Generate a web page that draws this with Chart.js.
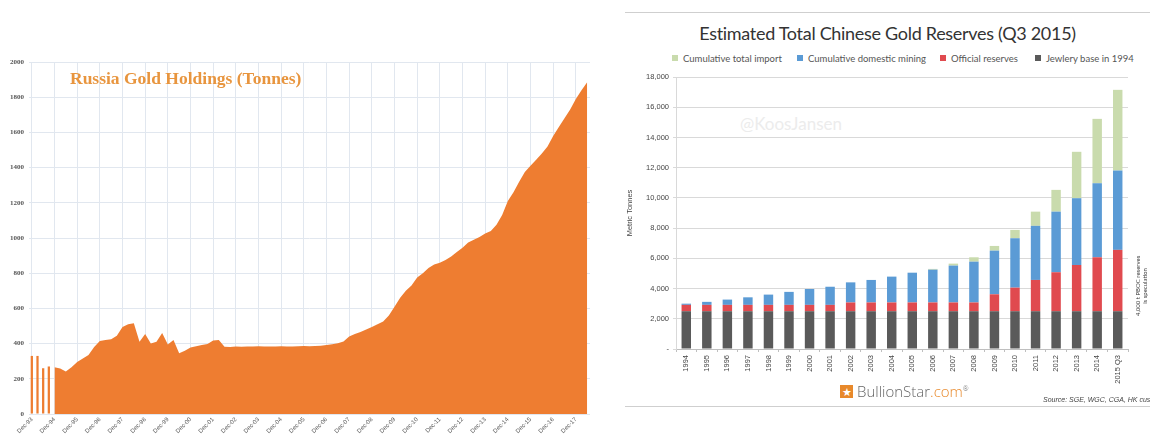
<!DOCTYPE html>
<html>
<head>
<meta charset="utf-8">
<script src="https://cdn.jsdelivr.net/npm/chart.js@4"></script>
<style>
  body { margin: 0; width: 1150px; height: 437px; background: #fff; position: relative; overflow: hidden; font-family: "Lato", "Open Sans", sans-serif; }
  .abs { position: absolute; white-space: nowrap; }
  #russiaWrap { position: absolute; left: 0; top: 40px; }
  #chinaWrap { position: absolute; left: 625px; top: 65px; }
  .rule { position: absolute; left: 625px; width: 525px; height: 1px; background: #cfcfcf; }
  .key { position: absolute; top: 53px; font-size: 9.5px; color: #555; }
  .key i { display: inline-block; width: 6px; height: 6px; margin-right: 5px; vertical-align: 1px; }
</style>
</head>
<body>

<!-- left: Russia -->
<div id="russiaWrap"><canvas id="russiaChart" width="600" height="397"></canvas></div>
<div class="abs" style="left:70px; top:68px; font: bold 17.5px 'Liberation Serif', serif; color:#e8953e;">Russia Gold Holdings (Tonnes)</div>

<!-- right: China -->
<div class="rule" style="top:12px"></div>
<div class="rule" style="top:406px"></div>
<div class="abs" style="left:625px; width:525px; top:22px; text-align:center; font-size:18px; letter-spacing:-0.3px; color:#333;">Estimated Total Chinese Gold Reserves (Q3 2015)</div>
<div class="key" style="left:672px"><i style="background:#c9dbad"></i>Cumulative total import</div>
<div class="key" style="left:797px"><i style="background:#5b9bd5"></i>Cumulative domestic mining</div>
<div class="key" style="left:940px"><i style="background:#e04a4f"></i>Official reserves</div>
<div class="key" style="left:1035px"><i style="background:#5a5a5a"></i>Jewlery base in 1994</div>
<div class="abs" style="left:740px; top:113px; font-size:17px; color:#ececec;">@KoosJansen</div>
<div id="chinaWrap"><canvas id="chinaChart" width="525" height="325"></canvas></div>
<div class="abs" style="left:1111px; top:279px; width:60px; transform:rotate(-90deg); font-size:6px; line-height:7px; text-align:center; color:#444;">4,000 t PBOC reserves<br>is speculation</div>
<div class="abs" style="left:840px; top:385px; width:13px; height:13px; background:#e8892b; color:#fff; font-size:11px; line-height:13px; text-align:center;">★</div>
<div class="abs" style="left:857px; top:381px; font: 300 15px 'Open Sans', sans-serif; color:#666;">BullionStar<span style="color:#e8892b">.com</span><sup style="font-size:7px">®</sup></div>
<div class="abs" style="left:1043px; top:396px; font: italic 7px 'Liberation Sans', sans-serif; color:#444;">Source: SGE, WGC, CGA, HK customs</div>

<script>
// Russia: quarterly holdings, Dec-93 .. Jun-18
const russiaYearLabels = ["Dec-93", "Dec-94", "Dec-95", "Dec-96", "Dec-97", "Dec-98", "Dec-99", "Dec-00",
    "Dec-01", "Dec-02", "Dec-03", "Dec-04", "Dec-05", "Dec-06", "Dec-07", "Dec-08", "Dec-09", "Dec-10",
    "Dec-11", "Dec-12", "Dec-13", "Dec-14", "Dec-15", "Dec-16", "Dec-17"];
const russiaSparse = [330, 330, 260, 270]; // Dec-93 .. Sep-94, patchy reporting
const russiaHoldings = [ // Dec-94 .. Jun-18
    265, 258, 242, 265, 295, 315, 335, 380, 415, 420, 425, 445, 495, 510, 515, 410,
    455, 400, 410, 460, 395, 420, 345, 360, 378, 385, 392, 398, 418, 420, 382, 381,
    383, 382, 384, 383, 385, 384, 384, 383, 385, 384, 384, 385, 386, 385, 386, 388,
    392, 396, 402, 412, 440, 455, 466, 480, 495, 510, 525, 560, 610, 660, 700, 730,
    775, 800, 830, 850, 860, 875, 895, 920, 945, 975, 990, 1005, 1025, 1040, 1075, 1130,
    1210, 1260, 1320, 1375, 1410, 1445, 1480, 1520, 1580, 1630, 1680, 1730, 1790, 1840, 1885];

// China: stacked estimate by year
const chinaYears = ["1994", "1995", "1996", "1997", "1998", "1999", "2000", "2001", "2002", "2003", "2004",
    "2005", "2006", "2007", "2008", "2009", "2010", "2011", "2012", "2013", "2014", "2015 Q3"];
const jewelryBase = [2500, 2500, 2500, 2500, 2500, 2500, 2500, 2500, 2500, 2500, 2500,
    2500, 2500, 2500, 2500, 2500, 2500, 2500, 2500, 2500, 2500, 2500];
const officialReserves = [420, 420, 420, 420, 420, 420, 420, 420, 580, 580, 580,
    580, 580, 580, 580, 1120, 1560, 2070, 2580, 3060, 3570, 4060];
const domesticMining = [80, 200, 350, 500, 680, 860, 1050, 1200, 1330, 1490, 1710,
    1970, 2170, 2440, 2700, 2890, 3270, 3580, 4010, 4420, 4900, 5250];
const totalImport = [0, 0, 0, 0, 0, 0, 0, 0, 0, 0, 0,
    0, 50, 130, 290, 310, 550, 940, 1440, 3070, 4260, 5340];

// quarter categories: each Dec label followed by Mar/Jun/Sep of the next year
const russiaQuarters = [];
russiaYearLabels.forEach((lbl) => {
    russiaQuarters.push(lbl);
    const next = String((parseInt(lbl.slice(4), 10) + 1) % 100).padStart(2, "0");
    ["Mar-", "Jun-", "Sep-"].forEach((m) => russiaQuarters.push(m + next));
});
russiaQuarters.length = russiaSparse.length + russiaHoldings.length;

const sparseData = russiaQuarters.map((_, i) => (i < russiaSparse.length ? russiaSparse[i] : null));
const mainData = russiaQuarters.map((_, i) => (i < russiaSparse.length ? null : russiaHoldings[i - russiaSparse.length]));

const orange = "#ee7d31";
const gridBlue = "#e1e7ef";

new Chart(document.getElementById("russiaChart").getContext("2d"), {
    type: "bar",
    data: {
        labels: russiaQuarters,
        datasets: [
            {
                label: "Early",
                data: sparseData,
                backgroundColor: orange,
                barPercentage: 0.4,
                categoryPercentage: 1,
                grouped: false,
            },
            {
                type: "line",
                label: "Holdings",
                data: mainData,
                borderWidth: 0,
                borderColor: orange,
                backgroundColor: orange,
                pointRadius: 0,
                fill: "origin",
                tension: 0,
            },
        ],
    },
    options: {
        responsive: false,
        animation: false,
        layout: { padding: { top: 22, right: 10 } },
        plugins: { legend: { display: false }, tooltip: { enabled: false } },
        scales: {
            x: {
                offset: true,
                afterFit: (s) => { s.height = 23; },
                grid: {
                    offset: false,
                    drawTicks: false,
                    color: (ctx) => (ctx.index % 4 === 0 ? gridBlue : "transparent"),
                },
                border: { display: false },
                ticks: {
                    autoSkip: false,
                    minRotation: 45,
                    maxRotation: 45,
                    padding: 2,
                    font: { size: 6, family: "Liberation Sans" },
                    color: "#555",
                    callback: (v, i) => (i % 4 === 0 ? russiaQuarters[i] : ""),
                },
            },
            y: {
                min: 0,
                max: 2000,
                afterFit: (s) => { s.width = 29; },
                grid: { color: gridBlue, drawTicks: false },
                border: { display: false },
                ticks: {
                    stepSize: 200,
                    padding: 5,
                    font: { size: 7, family: "Liberation Serif", weight: "bold" },
                    color: "#555",
                    callback: (v) => String(v),
                },
            },
        },
    },
});

new Chart(document.getElementById("chinaChart").getContext("2d"), {
    type: "bar",
    data: {
        labels: chinaYears,
        datasets: [
            { label: "Jewlery base in 1994", data: jewelryBase, backgroundColor: "#5a5a5a" },
            { label: "Official reserves", data: officialReserves, backgroundColor: "#e04a4f" },
            { label: "Cumulative domestic mining", data: domesticMining, backgroundColor: "#5b9bd5" },
            { label: "Cumulative total import", data: totalImport, backgroundColor: "#c9dbad" },
        ],
    },
    options: {
        responsive: false,
        animation: false,
        layout: { padding: { top: 12, right: 22 } },
        datasets: { bar: { barPercentage: 0.5, categoryPercentage: 0.92 } },
        plugins: { legend: { display: false }, tooltip: { enabled: false } },
        scales: {
            x: {
                stacked: true,
                afterFit: (s) => { s.height = 41; },
                grid: { drawOnChartArea: false, tickLength: 3, color: "#bfbfbf" },
                border: { color: "#bfbfbf" },
                ticks: {
                    autoSkip: false,
                    minRotation: 90,
                    maxRotation: 90,
                    padding: 3,
                    font: { size: 7.5, family: "Liberation Sans" },
                    color: "#444",
                },
            },
            y: {
                stacked: true,
                min: 0,
                max: 18000,
                afterFit: (s) => { s.width = 51; },
                grid: { color: "#d9d9d9", tickLength: 3 },
                border: { color: "#d9d9d9" },
                title: {
                    display: true,
                    text: "Metric Tonnes",
                    font: { size: 7.5, family: "Liberation Sans" },
                    color: "#444",
                    padding: 0,
                },
                ticks: {
                    stepSize: 2000,
                    padding: 4,
                    font: { size: 7.5, family: "Liberation Sans" },
                    color: "#444",
                    callback: (v) => (v === 0 ? "-" : v.toLocaleString("en-US")),
                },
            },
        },
    },
});
</script>
</body>
</html>
